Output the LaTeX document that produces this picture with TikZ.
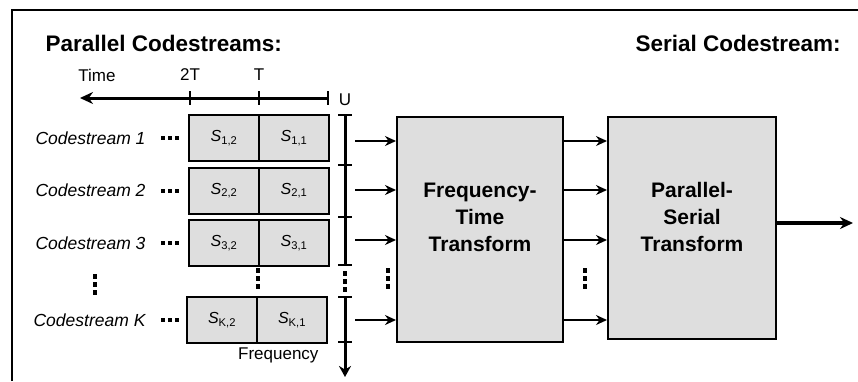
\documentclass[tikz,border=0pt]{standalone}
\usepackage{fontspec}
\setmainfont{Liberation Sans}
\usetikzlibrary{arrows.meta}
\begin{document}
\begin{tikzpicture}[x=1pt,y=-1pt,
  title/.style={anchor=west,font=\fontsize{22.5}{26}\selectfont\bfseries},
  axlab/.style={font=\fontsize{17}{20}\selectfont},
  cslab/.style={anchor=east,font=\fontsize{17.5}{20}\selectfont\itshape},
  cell/.style={draw,line width=2pt,fill=black!13,minimum width=70pt,minimum height=46pt,inner sep=0pt,font=\fontsize{16}{18}\selectfont},
  bigbox/.style={draw,line width=2pt,fill=black!13,inner sep=0pt},
  boxtext/.style={align=center,font=\fontsize{21}{27}\selectfont\bfseries},
  axis/.style={line width=3pt},
  conn/.style={line width=1.6pt,-{Stealth[length=11pt,width=10pt]}},
  dotmark/.style={fill=black,minimum size=4pt,inner sep=0pt,draw=none},
]
\useasboundingbox (0,0) rectangle (858,381);
% frame
\draw[line width=2.5pt] (12,381) -- (12,10) -- (858,10);
% titles
\node[title] (pc) at (42,43) {Parallel Codestreams:};
\node[title] (sc) at (632,43) {Serial Codestream:};
% time axis
\coordinate (tL) at (80,98);
\coordinate (tR) at (328,98);
\draw[axis,-{Stealth[length=13pt,width=12pt]}] (tR) -- (tL);
\foreach \x in {190,259,328} \draw[line width=2.2pt] (\x,91) -- (\x,105);
\node[axlab] (ltime) at (97,75) {Time};
\node[axlab] (l2t) at (190,75) {2T};
\node[axlab] (lt) at (259,75) {T};
\node[axlab] (lu) at (345,100) {U};
% cells
\node[cell] (c12) at (224,138) {\textit{S}\textsubscript{1,2}};
\node[cell] (c11) at (294,138) {\textit{S}\textsubscript{1,1}};
\node[cell] (c22) at (224,190.5) {\textit{S}\textsubscript{2,2}};
\node[cell] (c21) at (294,190.5) {\textit{S}\textsubscript{2,1}};
\node[cell] (c32) at (224,243) {\textit{S}\textsubscript{3,2}};
\node[cell] (c31) at (294,243) {\textit{S}\textsubscript{3,1}};
\node[cell] (cK2) at (222,320) {\textit{S}\textsubscript{K,2}};
\node[cell] (cK1) at (292,320) {\textit{S}\textsubscript{K,1}};
% codestream labels
\node[cslab] (cs1) at (149,138) {Codestream 1};
\node[cslab] (cs2) at (149,190.5) {Codestream 2};
\node[cslab] (cs3) at (149,243) {Codestream 3};
\node[cslab] (csK) at (149,320) {Codestream K};
\foreach \y in {138,190.5,243,320}
  \foreach \x in {163,170,177} \node[dotmark] at (\x,\y) {};
% vertical dots
\foreach \x/\dy in {95/0,258/-6,388/-6,585/-6}
  \foreach \y in {276,284,292} \node[dotmark,minimum width=3.5pt,minimum height=5pt] at (\x,\y+\dy) {};
% frequency axis
\draw[axis] (345,115) -- (345,265);
\draw[axis,-{Stealth[length=11pt,width=12pt]}] (345,297) -- (345,377);
\foreach \y in {115,165,217,265,297,342} \draw[line width=2.2pt] (338,\y) -- (352,\y);
\foreach \y in {273,281,289} \node[dotmark,minimum width=3.5pt,minimum height=5pt] at (345,\y) {};
\node[axlab,anchor=east] (lfreq) at (322,355) {Frequency};
% big boxes
\node[bigbox,minimum width=166pt,minimum height=225pt] (ft) at (480,229.5) {};
\node[bigbox,minimum width=168pt,minimum height=222pt] (ps) at (692,228) {};
\node[boxtext] (ftt) at ([yshift=12pt]ft.center) {Frequency-\\Time\\Transform};
\node[boxtext] (pst) at ([yshift=11pt]ps.center) {Parallel-\\Serial\\Transform};
% connectors
\foreach \y [count=\i] in {141,190,240,320} {
  \coordinate (in\i) at (355,\y);
  \draw[conn] (in\i) -- (ft.west |- in\i);
  \draw[conn] (ft.east |- in\i) -- (ps.west |- in\i);
}
\coordinate (out) at (853,223);
\draw[line width=3.2pt,-{Stealth[length=13pt,width=12pt]}] (ps.east |- out) -- (out);
\end{tikzpicture}
\end{document}
